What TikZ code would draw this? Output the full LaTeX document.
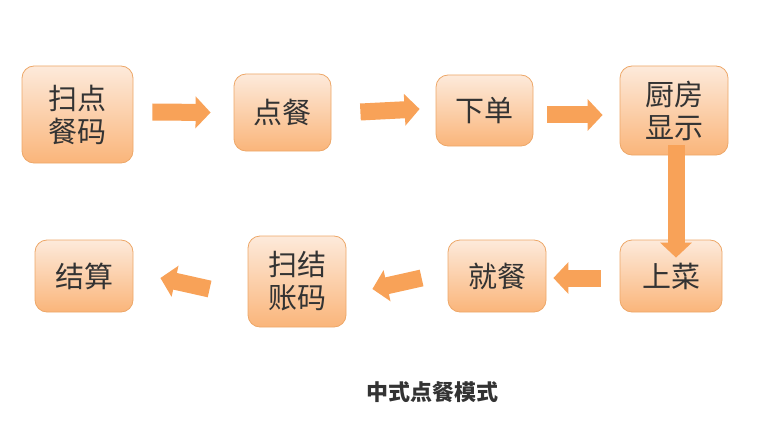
\documentclass[tikz,border=0pt]{standalone}
\usepackage{fontspec}
\newfontfamily\cjk{Noto Sans CJK SC}
\usetikzlibrary{arrows.meta}
\definecolor{bord}{HTML}{EDA768}
\definecolor{ftop}{HTML}{FDEADB}
\definecolor{fbot}{HTML}{FAB57A}
\definecolor{arr}{HTML}{F8A258}
\tikzset{
 box/.style={draw=bord,line width=0.8pt,rounded corners=12pt,top color=ftop,bottom color=fbot,
   font=\cjk\fontsize{29}{33}\selectfont,text=black!80,align=center,inner sep=0pt},
 blk/.style={draw=arr,line width=17pt,-{Triangle[width=31pt 0,length=15pt 0]}},
}
\begin{document}
\begin{tikzpicture}[x=1pt,y=-1pt]
\useasboundingbox (0,0) rectangle (773,425);
\node[box,minimum width=111pt,minimum height=97pt] (a) at (77.5,114.5) {扫点\\餐码};
\node[box,minimum width=97pt,minimum height=77pt] (b) at (282.5,112.5) {点餐};
\node[box,minimum width=97pt,minimum height=71pt] (c) at (484.5,110.5) {下单};
\node[box,minimum width=108pt,minimum height=89pt] (d) at (674,110.5) {厨房\\显示};
\node[box,minimum width=102pt,minimum height=72pt] (e) at (671,276) {上菜};
\node[box,minimum width=98pt,minimum height=72pt] (f) at (497,276) {就餐};
\node[box,minimum width=98pt,minimum height=91pt] (g) at (297,281.5) {扫结\\账码};
\node[box,minimum width=98pt,minimum height=72pt] (h) at (84,276) {结算};
\draw[blk] ([xshift=19pt,yshift=2.5pt]a.east) -- ([xshift=-23pt]b.west);
\draw[blk] ([xshift=29pt,yshift=0.5pt]b.east) -- ([xshift=-16pt,yshift=1.5pt]c.west);
\draw[blk] ([xshift=14pt,yshift=-4.5pt]c.east) -- ([xshift=-17pt,yshift=-4.5pt]d.west);
\draw[blk] ([xshift=2pt,yshift=10pt]d.south) -- ([xshift=5pt,yshift=-18pt]e.north);
\draw[blk] ([xshift=-19pt,yshift=-2pt]e.west) -- ([xshift=7pt,yshift=-2pt]f.east);
\draw[blk] ([xshift=-26pt,yshift=-2pt]f.west) -- ([xshift=26pt,yshift=-7.5pt]g.east);
\draw[blk] ([xshift=-38pt,yshift=-7.5pt]g.west) -- ([xshift=27pt,yshift=-2pt]h.east);
\node[font=\cjk\bfseries\fontsize{22}{26}\selectfont,text=black!80] (t) at (432,392) {中式点餐模式};
\end{tikzpicture}
\end{document}
